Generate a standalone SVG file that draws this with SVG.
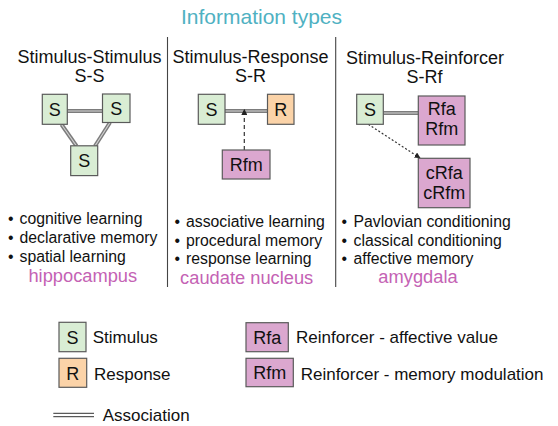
<svg xmlns="http://www.w3.org/2000/svg" width="558" height="426" viewBox="0 0 558 426">
  <style>
    text { font-family: "Liberation Sans", Arial, sans-serif; fill: #111; }
    .title { font-size: 21px; fill: #4fb1c2; text-anchor: middle; }
    .head { font-size: 18px; text-anchor: middle; }
    .item { font-size: 15.8px; }
    .region { font-size: 18.3px; fill: #c462b4; text-anchor: middle; }
    .lbl { font-size: 18px; text-anchor: middle; }
    .leg { font-size: 17px; }
    .box { stroke: #5a5a5a; stroke-width: 1.2; }
    .stim { fill: #d9edd4; }
    .resp { fill: #fbd3a8; }
    .rf { fill: #dba7cf; }
    .divider { stroke: #444; stroke-width: 1.1; }
    .assoc-out { stroke: #7c7c7c; stroke-width: 4; fill: none; }
    .assoc-in { stroke: #d4d4d4; stroke-width: 1.1; fill: none; }
    .dash { stroke: #333; stroke-width: 1.2; fill: none; }
  </style>
  <defs>
    <marker id="tip" viewBox="0 0 10 10" refX="9" refY="5" markerWidth="5" markerHeight="5" orient="auto">
      <path d="M0,0 L10,5 L0,10 z" fill="#222"/>
    </marker>
  </defs>

  <rect width="558" height="426" fill="#ffffff"/>

  <text class="title" x="261.5" y="24">Information types</text>

  <!-- column dividers -->
  <g id="dividers">
    <line class="divider" x1="167.5" y1="37" x2="167.5" y2="287"/>
    <line class="divider" x1="335.7" y1="37" x2="335.7" y2="287"/>
  </g>

  <!-- column headers -->
  <g id="headers">
    <text class="head" x="89.5" y="63">Stimulus-Stimulus</text>
    <text class="head" x="89.5" y="82">S-S</text>
    <text class="head" x="250.5" y="63">Stimulus-Response</text>
    <text class="head" x="250.5" y="82">S-R</text>
    <text class="head" x="425" y="64">Stimulus-Reinforcer</text>
    <text class="head" x="424.5" y="83">S-Rf</text>
  </g>

  <!-- connectors -->
  <g id="connectors">
    <line class="assoc-out" x1="67" y1="111" x2="102.5" y2="111"/>
    <line class="assoc-in" x1="67" y1="111" x2="102.5" y2="111"/>
    <line class="assoc-out" x1="61.5" y1="124.5" x2="76.5" y2="146"/>
    <line class="assoc-in" x1="61.5" y1="124.5" x2="76.5" y2="146"/>
    <line class="assoc-out" x1="110" y1="122.5" x2="95" y2="146"/>
    <line class="assoc-in" x1="110" y1="122.5" x2="95" y2="146"/>

    <line class="assoc-out" x1="225" y1="111" x2="267.5" y2="111"/>
    <line class="assoc-in" x1="225" y1="111" x2="267.5" y2="111"/>
    <line class="dash" x1="244.3" y1="150" x2="244.3" y2="109.5" stroke-dasharray="4 3" marker-end="url(#tip)"/>

    <line class="assoc-out" x1="383.3" y1="113" x2="418.3" y2="113"/>
    <line class="assoc-in" x1="383.3" y1="113" x2="418.3" y2="113"/>
    <line class="dash" x1="368.3" y1="124.3" x2="420" y2="158" stroke-width="1" stroke-dasharray="2 2" marker-end="url(#tip)"/>
  </g>

  <!-- S-S nodes -->
  <g id="ss-s1">
    <rect class="box stim" x="42.3" y="94.3" width="25" height="30"/>
    <text class="lbl" x="54.8" y="116">S</text>
  </g>
  <g id="ss-s2">
    <rect class="box stim" x="102.5" y="94" width="27.5" height="28.5"/>
    <text class="lbl" x="116.2" y="115">S</text>
  </g>
  <g id="ss-s3">
    <rect class="box stim" x="70.7" y="145.8" width="27" height="29.8"/>
    <text class="lbl" x="84.2" y="167">S</text>
  </g>

  <!-- S-R nodes -->
  <g id="sr-s">
    <rect class="box stim" x="198.3" y="94.3" width="26.7" height="30"/>
    <text class="lbl" x="211.6" y="116">S</text>
  </g>
  <g id="sr-r">
    <rect class="box resp" x="267.5" y="94.3" width="26.5" height="30"/>
    <text class="lbl" x="280.7" y="116">R</text>
  </g>
  <g id="sr-rfm">
    <rect class="box rf" x="222.3" y="150" width="47.7" height="29"/>
    <text class="lbl" x="246.2" y="171">Rfm</text>
  </g>

  <!-- S-Rf nodes -->
  <g id="srf-s">
    <rect class="box stim" x="356.7" y="94.3" width="26.6" height="30"/>
    <text class="lbl" x="370" y="116">S</text>
  </g>
  <g id="srf-rf">
    <rect class="box rf" x="418.3" y="96" width="46.7" height="49"/>
    <text class="lbl" x="441.7" y="114.5">Rfa</text>
    <text class="lbl" x="441.7" y="135">Rfm</text>
  </g>
  <g id="srf-crf">
    <rect class="box rf" x="418.3" y="158.3" width="51.7" height="49.4"/>
    <text class="lbl" x="444.2" y="179">cRfa</text>
    <text class="lbl" x="444.2" y="198.5">cRfm</text>
  </g>

  <!-- bullet lists and brain regions -->
  <g id="list-ss">
    <text class="item" x="8" y="224">•<tspan x="19.5">cognitive learning</tspan></text>
    <text class="item" x="8" y="243">•<tspan x="19.5">declarative memory</tspan></text>
    <text class="item" x="8" y="262">•<tspan x="19.5">spatial learning</tspan></text>
    <text class="region" x="82.8" y="281.5">hippocampus</text>
  </g>
  <g id="list-sr">
    <text class="item" x="174.5" y="226.5">•<tspan x="186">associative learning</tspan></text>
    <text class="item" x="174.5" y="245.5">•<tspan x="186">procedural memory</tspan></text>
    <text class="item" x="174.5" y="264">•<tspan x="186">response learning</tspan></text>
    <text class="region" x="246.7" y="283.5">caudate nucleus</text>
  </g>
  <g id="list-srf">
    <text class="item" x="341.5" y="226.5">•<tspan x="353.5">Pavlovian conditioning</tspan></text>
    <text class="item" x="341.5" y="245.5">•<tspan x="353.5">classical conditioning</tspan></text>
    <text class="item" x="341.5" y="264">•<tspan x="353.5">affective memory</tspan></text>
    <text class="region" x="418" y="283">amygdala</text>
  </g>

  <!-- legend -->
  <g id="legend-stimulus">
    <rect class="box stim" x="59" y="322.3" width="27" height="29.4"/>
    <text class="lbl" x="72.5" y="343.5">S</text>
    <text class="leg" x="92.7" y="343">Stimulus</text>
  </g>
  <g id="legend-response">
    <rect class="box resp" x="59" y="358.3" width="27.7" height="29"/>
    <text class="lbl" x="72.8" y="379.5">R</text>
    <text class="leg" x="94" y="379.5">Response</text>
  </g>
  <g id="legend-association">
    <line x1="53.3" y1="413.3" x2="94" y2="413.3" stroke="#333" stroke-width="1"/>
    <line x1="53.3" y1="416.7" x2="94" y2="416.7" stroke="#333" stroke-width="1"/>
    <text class="leg" x="102.7" y="420.5">Association</text>
  </g>
  <g id="legend-rfa">
    <rect class="box rf" x="246" y="322.7" width="42.3" height="29"/>
    <text class="lbl" x="267.2" y="343.5">Rfa</text>
    <text class="leg" x="296" y="343">Reinforcer - affective value</text>
  </g>
  <g id="legend-rfm">
    <rect class="box rf" x="246" y="358.3" width="47.3" height="28.4"/>
    <text class="lbl" x="269.7" y="379">Rfm</text>
    <text class="leg" x="300.7" y="379.5">Reinforcer - memory modulation</text>
  </g>
</svg>
